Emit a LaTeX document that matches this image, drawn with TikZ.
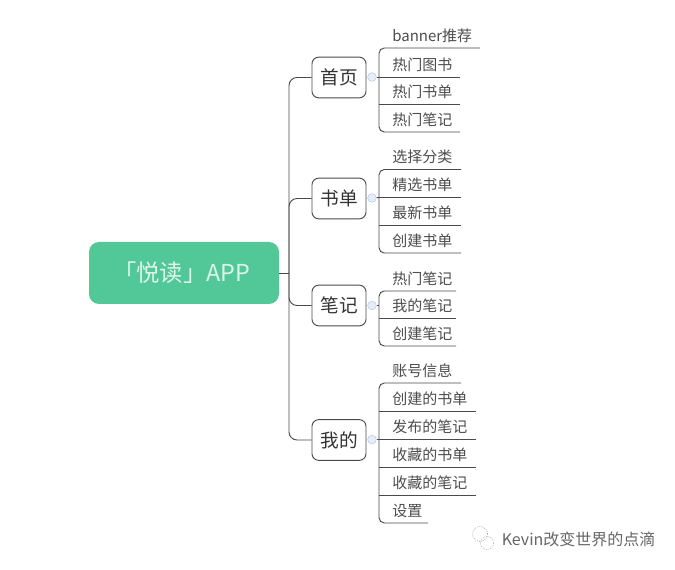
\documentclass[tikz,border=0pt]{standalone}
\usepackage{fontspec}
\setmainfont{Noto Sans CJK SC}
\definecolor{linec}{HTML}{4A4A4A}
\definecolor{textc}{HTML}{4D4D4D}
\definecolor{rootc}{HTML}{52C797}
\definecolor{roott}{HTML}{DDF5EA}
\definecolor{hubc}{HTML}{C3D1EC}
\definecolor{markc}{HTML}{666666}
\tikzset{
  line/.style={draw=linec,line width=0.7pt},
  rootnode/.style={fill=rootc,rounded corners=7.5pt,minimum width=142.5pt,minimum height=46.5pt,inner sep=0pt,text=roott,font=\fontsize{17.5}{21}\selectfont},
  topic/.style={line,fill=white,rounded corners=5pt,minimum width=40.5pt,minimum height=30.5pt,inner sep=0pt,text=black!80,font=\fontsize{14}{17}\selectfont},
  hub/.style={circle,draw=hubc,fill=hubc!40,line width=0.5pt,minimum size=6.5pt,inner sep=0pt},
  hubline/.style={draw=linec!45,line width=0.4pt},
}
\newcommand{\leafrow}[4]{% name, bottom y, right x, text
  \coordinate (#1w) at (379,#2);
  \coordinate (#1e) at (#3,#2);
  \node[anchor=base west,inner sep=0pt,text=textc,font=\fontsize{11.25}{14}\selectfont] (#1) at (392,#2-6.5) {#4};
}
\begin{document}
\begin{tikzpicture}[x=0.75pt,y=-0.75pt]
\useasboundingbox (0,0) rectangle (675,570);
\fill[white] (0,0) rectangle (675,570);

\node[rootnode] (root) at (184,273) {\hspace*{-3.5pt}「悦读」APP};
\coordinate (trunk) at (289,273);

\node[topic] (a) at (339,77.5) {首页};
\node[topic] (b) at (339,198.5) {书单};
\node[topic] (c) at (339,305.5) {笔记};
\node[topic] (d) at (339,440) {我的};

\draw[line] (root.east) -- (trunk);
\draw[line,rounded corners=6pt] (a.west) -| (trunk);
\draw[line,rounded corners=6pt] (b.west) -| (trunk);
\draw[line,rounded corners=6pt] (c.west) -| (trunk);
\draw[line,rounded corners=6pt] (d.west) -| (trunk);

% group a
\leafrow{a1}{48}{480}{banner推荐}
\leafrow{a2}{77}{460}{热门图书}
\leafrow{a3}{104.5}{460}{热门书单}
\leafrow{a4}{132}{460}{热门笔记}
\node[hub] (ha) at (372,77) {};
\draw[hubline] (a.east) -- (ha);
\draw[line] (ha) -- (a2w);
\draw[line,rounded corners=4pt] (a1e) -- (a1w) -- (a4w) -- (a4e);
\draw[line] (a2w) -- (a2e);
\draw[line] (a3w) -- (a3e);

% group b
\leafrow{b1}{169.5}{461}{选择分类}
\leafrow{b2}{197.5}{461}{精选书单}
\leafrow{b3}{225.5}{461}{最新书单}
\leafrow{b4}{253}{461}{创建书单}
\node[hub] (hb) at (372,198) {};
\draw[hubline] (b.east) -- (hb);
\draw[line] (hb) -- (b2w);
\draw[line,rounded corners=4pt] (b1e) -- (b1w) -- (b4w) -- (b4e);
\draw[line] (b2w) -- (b2e);
\draw[line] (b3w) -- (b3e);

% group c
\leafrow{c1}{291}{456}{热门笔记}
\leafrow{c2}{318.5}{456}{我的笔记}
\leafrow{c3}{346}{456}{创建笔记}
\node[hub] (hc) at (372,305.5) {};
\coordinate (cj) at (379,305.5);
\draw[hubline] (c.east) -- (hc);
\draw[line] (hc) -- (cj);
\draw[line,rounded corners=4pt] (c1e) -- (c1w) -- (c3w) -- (c3e);
\draw[line] (c2w) -- (c2e);

% group d
\leafrow{d1}{383}{461}{账号信息}
\leafrow{d2}{411}{476}{创建的书单}
\leafrow{d3}{439}{476}{发布的笔记}
\leafrow{d4}{467}{476}{收藏的书单}
\leafrow{d5}{495}{476}{收藏的笔记}
\leafrow{d6}{523}{428}{设置}
\node[hub] (hd) at (372,439.5) {};
\coordinate (dj) at (379,439.5);
\draw[hubline] (d.east) -- (hd);
\draw[line] (hd) -- (dj);
\draw[line,rounded corners=4pt] (d1e) -- (d1w) -- (d6w) -- (d6e);
\draw[line] (d2w) -- (d2e);
\draw[line] (d3w) -- (d3e);
\draw[line] (d4w) -- (d4e);
\draw[line] (d5w) -- (d5e);

% watermark
\node[anchor=base west,inner sep=0pt,text=markc,font=\fontsize{12}{14}\selectfont] (mark) at (501.5,545) {Kevin改变世界的点滴};
\draw[markc!70,line width=0.5pt,densely dotted] (480,534) circle[radius=7.5];
\draw[markc!70,line width=0.5pt,densely dotted] (487,543) circle[radius=6.5];
\end{tikzpicture}
\end{document}
